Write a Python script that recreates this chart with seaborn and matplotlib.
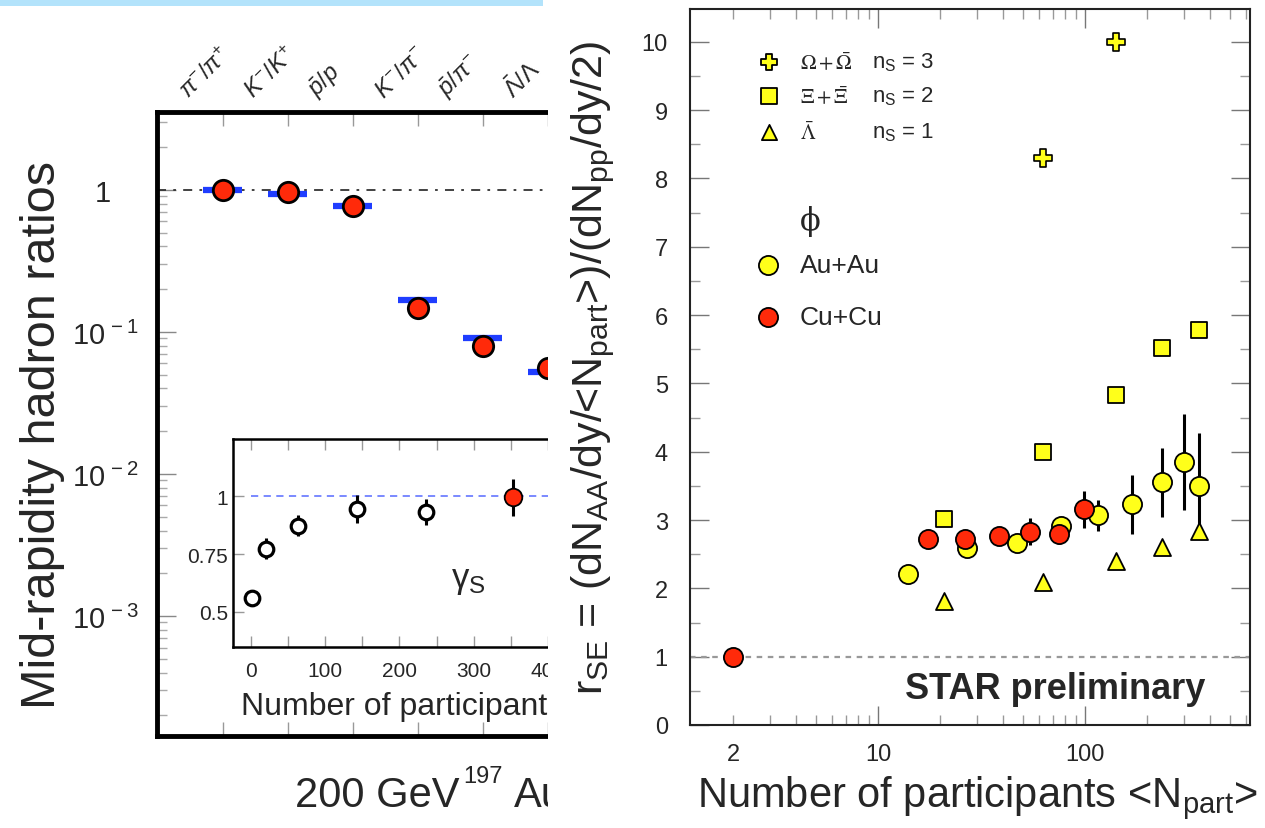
import numpy as np
import pandas as pd
import matplotlib
matplotlib.use("Agg")
import matplotlib.pyplot as plt
import matplotlib.transforms as mtransforms
from matplotlib.patches import Rectangle
from matplotlib.ticker import LogLocator, MultipleLocator, FixedLocator, FuncFormatter, NullFormatter
import seaborn as sns

# ---------------- data ----------------
ratio_labels = [r'$\pi^{-}/\pi^{+}$', r'$K^{-}/K^{+}$', r'$\bar{p}/p$', r'$K^{-}/\pi^{-}$',
                r'$\bar{p}/\pi^{-}$', r'$\bar{\Lambda}/\Lambda$']
ratio_data = [1.0, 0.968, 0.772, 0.148, 0.080, 0.0557]
ratio_model = [1.0, 0.937, 0.772, 0.168, 0.091, 0.052]

inset_npart = [2, 21, 63, 143, 236, 353]
inset_gamma = [0.56, 0.772, 0.872, 0.944, 0.932, 0.994]
inset_err = [0.02, 0.045, 0.045, 0.06, 0.055, 0.08]
inset_kind = ['open', 'open', 'open', 'open', 'open', 'red']

npart_au = [14.0, 26.9, 47.2, 76.7, 115, 168, 236, 302, 355]
rse_au = [2.21, 2.59, 2.66, 2.92, 3.07, 3.23, 3.55, 3.85, 3.50]
err_au = [0, 0, 0, 0.1, 0.23, 0.43, 0.5, 0.7, 0.78]
npart_cu = [2, 17.5, 26.2, 38.4, 54.3, 74.6, 98.4]
rse_cu = [1.0, 2.72, 2.72, 2.77, 2.83, 2.80, 3.16]
err_cu = [0, 0, 0, 0, 0.2, 0.15, 0.27]
npart_xi = [20.8, 62.5, 141, 236, 355]
rse_xi = [3.02, 3.99, 4.83, 5.52, 5.78]
npart_lam = [20.8, 62.5, 141, 236, 355]
rse_lam = [1.82, 2.10, 2.40, 2.60, 2.84]
npart_om = [62.5, 141]
rse_om = [8.30, 10.0]

right_yticks = list(range(0, 11))
right_xtick_vals = [2, 10, 100]

# ---------------- style ----------------
sns.set_theme(style="ticks")
plt.rcParams['font.family'] = ['Liberation Sans', 'DejaVu Sans']
plt.rcParams['mathtext.fontset'] = 'custom'
plt.rcParams['mathtext.rm'] = 'Liberation Sans'
plt.rcParams['mathtext.it'] = 'Liberation Sans:italic'
plt.rcParams['mathtext.bf'] = 'Liberation Sans:bold'

W, H = 1265, 829


def rect(l, t, r, b):
    return [l / W, 1 - b / H, (r - l) / W, (b - t) / H]


fig = plt.figure(figsize=(W / 100, H / 100), dpi=100)
fig.patch.set_facecolor('white')

RED = '#ff2a0a'
YEL = '#ffff1a'

# ---------------- left main panel ----------------
axL = fig.add_axes(rect(157, 113, 548, 737))
axL.set_facecolor('white')
df_ratio = pd.DataFrame({'idx': np.arange(len(ratio_labels)), 'data': ratio_data, 'model': ratio_model})
axL.set_yscale('log')
axL.set_ylim(10 ** -3.845, 10 ** 0.549)
axL.set_xlim(-1.011, 4.98)
axL.axhline(1, color='#333333', lw=1.3, ls=(0, (5, 4, 1.5, 4)), zorder=1)
axL.hlines(df_ratio['model'], df_ratio['idx'] - 0.3, df_ratio['idx'] + 0.3, color='#1f3dff', lw=4.5, zorder=2)
sns.scatterplot(data=df_ratio, x='idx', y='data', ax=axL, s=215, color=RED, edgecolor='black',
                linewidth=2.0, zorder=3, legend=False)
axL.set_xlabel('')
axL.set_ylabel('Mid-rapidity hadron ratios', fontsize=35)
axL.yaxis.set_label_coords(-0.236, 0.484)
for s in ['left', 'top', 'bottom']:
    axL.spines[s].set_linewidth(3.5)
    axL.spines[s].set_color('black')
axL.spines['right'].set_visible(False)
axL.set_yticks([1e-3, 1e-2, 1e-1, 1])
axL.set_yticklabels([r'$10^{\,-3}$', r'$10^{\,-2}$', r'$10^{\,-1}$', '1'])
axL.yaxis.set_minor_locator(LogLocator(base=10, subs=np.arange(2, 10)))
axL.yaxis.set_minor_formatter(NullFormatter())
axL.tick_params(axis='y', which='major', direction='in', length=14, width=1, color='#888888',
                labelsize=21, pad=13)
axL.tick_params(axis='y', which='minor', direction='in', length=7, width=1, color='#aaaaaa')
off_one = mtransforms.ScaledTranslation(-0.28, 0, fig.dpi_scale_trans)
for t in axL.yaxis.get_major_ticks():
    if t.label1.get_text() == '1':
        t.label1.set_transform(t.label1.get_transform() + off_one)
axL.set_xticks(df_ratio['idx'])
axL.set_xticklabels(ratio_labels)
axL.tick_params(axis='x', which='major', direction='in', length=10, width=1, color='#999999',
                top=True, bottom=True, labeltop=True, labelbottom=False, labelsize=17, pad=7)
off = mtransforms.ScaledTranslation(-0.31, 0, fig.dpi_scale_trans)
for t in axL.xaxis.get_major_ticks():
    lab = t.label2
    lab.set_rotation(45)
    lab.set_rotation_mode('anchor')
    lab.set_ha('left')
    lab.set_va('bottom')
    lab.set_transform(lab.get_transform() + off)

fig.text(295 / W, 1 - 796 / H, '200 GeV', fontsize=30, ha='left', va='center')
fig.text(463 / W, 1 - 777 / H, '197', fontsize=17, ha='left', va='center')
fig.text(514 / W, 1 - 796 / H, 'Au+Au', fontsize=30, ha='left', va='center')

# ---------------- inset ----------------
axI = fig.add_axes(rect(233, 440, 548, 648))
axI.set_facecolor('white')
axI.set_xlim(-23.8, 393)
axI.set_ylim(0.349, 1.246)
axI.hlines(1, 0, 500, color='#7080ff', ls=(0, (4, 3)), lw=1.3, zorder=1)
df_in = pd.DataFrame({'npart': inset_npart, 'g': inset_gamma, 'err': inset_err, 'kind': inset_kind})
axI.errorbar(df_in['npart'], df_in['g'], yerr=df_in['err'], fmt='none', ecolor='black', elinewidth=2.2, zorder=2)
open_df = df_in[df_in['kind'] == 'open']
red_df = df_in[df_in['kind'] == 'red']
sns.scatterplot(data=open_df, x='npart', y='g', ax=axI, s=110, color='white', edgecolor='black',
                linewidth=2.3, zorder=3, legend=False)
sns.scatterplot(data=red_df, x='npart', y='g', ax=axI, s=160, color=RED, edgecolor='black',
                linewidth=1.3, zorder=3, legend=False)
for s in ['left', 'top', 'bottom']:
    axI.spines[s].set_linewidth(1.8)
    axI.spines[s].set_color('black')
axI.spines['right'].set_visible(False)
axI.set_xticks([0, 100, 200, 300, 400])
axI.xaxis.set_minor_locator(MultipleLocator(50))
axI.set_yticks([0.5, 0.75, 1.0])
axI.set_yticklabels(['0.5', '0.75', '1'])
axI.tick_params(axis='both', which='both', direction='in', top=True, length=8, width=1,
                color='#999999', labelsize=15)
axI.tick_params(axis='x', pad=10)
axI.set_xlabel('Number of participants', fontsize=23)
axI.xaxis.set_label_coords(0.025, -0.21)
axI.xaxis.label.set_ha('left')
axI.set_ylabel('')
axI.text(293, 0.642, r'$\mathrm{\gamma}_{\mathrm{S}}$', fontsize=25, ha='center', va='center')

# ---------------- cover + top strip ----------------
fig.add_artist(Rectangle((548 / W, 0), 1 - 548 / W, 1, transform=fig.transFigure,
                         facecolor='white', edgecolor='none', zorder=5))
fig.add_artist(Rectangle((0, 1 - 7 / H), 543 / W, 7 / H, transform=fig.transFigure,
                         facecolor='#b3e3fb', edgecolor='none', zorder=6))

# ---------------- right panel ----------------
axR = fig.add_axes(rect(690, 10, 1250, 726))
axR.set_zorder(10)
axR.set_facecolor('white')
axR.set_xscale('log')
axR.set_xlim(1.235, 627)
axR.set_ylim(0, 10.48)
axR.axhline(1, color='#999999', lw=1.6, ls=(0, (2.5, 2.5)), zorder=1)

df_au = pd.DataFrame({'n': npart_au, 'r': rse_au, 'e': err_au})
df_cu = pd.DataFrame({'n': npart_cu, 'r': rse_cu, 'e': err_cu})
df_xi = pd.DataFrame({'n': npart_xi, 'r': rse_xi})
df_lam = pd.DataFrame({'n': npart_lam, 'r': rse_lam})
df_om = pd.DataFrame({'n': npart_om, 'r': rse_om})

axR.errorbar(df_au['n'], df_au['r'], yerr=df_au['e'], fmt='none', ecolor='black', elinewidth=2.2, zorder=2)
axR.errorbar(df_cu['n'], df_cu['r'], yerr=df_cu['e'], fmt='none', ecolor='black', elinewidth=2.2, zorder=2)
sns.scatterplot(data=df_lam, x='n', y='r', ax=axR, marker='^', s=150, color=YEL, edgecolor='black',
                linewidth=1.3, zorder=3, legend=False)
sns.scatterplot(data=df_xi, x='n', y='r', ax=axR, marker='s', s=130, color=YEL, edgecolor='black',
                linewidth=1.3, zorder=3, legend=False)
sns.scatterplot(data=df_om, x='n', y='r', ax=axR, marker='P', s=150, color=YEL, edgecolor='black',
                linewidth=1.2, zorder=3, legend=False)
sns.scatterplot(data=df_au, x='n', y='r', ax=axR, marker='o', s=190, color=YEL, edgecolor='black',
                linewidth=1.3, zorder=4, legend=False)
sns.scatterplot(data=df_cu, x='n', y='r', ax=axR, marker='o', s=190, color=RED, edgecolor='black',
                linewidth=1.3, zorder=5, legend=False)

for s in ['left', 'top', 'bottom', 'right']:
    axR.spines[s].set_linewidth(1.5)
    axR.spines[s].set_color('#222222')
axR.set_yticks(right_yticks)
axR.yaxis.set_minor_locator(MultipleLocator(0.5))
axR.xaxis.set_major_locator(FixedLocator([10, 100]))
axR.xaxis.set_major_formatter(FuncFormatter(lambda v, p: f'{v:g}'))
axR.xaxis.set_minor_locator(LogLocator(base=10, subs=np.arange(2, 10)))
axR.xaxis.set_minor_formatter(FuncFormatter(lambda v, p: '2' if abs(v - right_xtick_vals[0]) < 1e-6 else ''))
axR.tick_params(axis='both', which='major', direction='in', top=True, right=True, length=14, width=1,
                color='#777777', labelsize=17)
axR.tick_params(axis='both', which='minor', direction='in', top=True, right=True, length=7, width=1,
                color='#999999', labelsize=17)
axR.tick_params(axis='x', which='both', pad=13)
axR.tick_params(axis='y', which='both', pad=16)

axR.set_ylabel(r'r$_{\mathrm{SE}}$ = (dN$_{\mathrm{AA}}$/dy/<N$_{\mathrm{part}}$>)/(dN$_{\mathrm{pp}}$/dy/2)',
               fontsize=31)
axR.yaxis.set_label_coords(-0.13, 0.5)
axR.set_xlabel(r'Number of participants <N$_{\mathrm{part}}$>', fontsize=30)
axR.xaxis.set_label_coords(0.514, -0.068)


def axc(px, py):
    return ((px - 690) / 560, (726 - py) / 716)


leg_items = [('P', r'$\Omega+\bar{\Omega}$', r'n$_{\mathrm{S}}$ = 3', 63),
             ('s', r'$\Xi+\bar{\Xi}$', r'n$_{\mathrm{S}}$ = 2', 97),
             ('^', r'$\bar{\Lambda}$', r'n$_{\mathrm{S}}$ = 1', 133)]
for mk, lab, ns, py in leg_items:
    x0, y0 = axc(769, py)
    axR.scatter([x0], [y0], marker=mk, s=120, color=YEL, edgecolor='black', linewidth=1.3,
                transform=axR.transAxes, clip_on=False, zorder=6)
    xt, _ = axc(800, py)
    axR.text(xt, y0, lab, transform=axR.transAxes, fontsize=15, va='center', ha='left',
             math_fontfamily='stix')
    xn, _ = axc(872, py)
    axR.text(xn, y0, ns, transform=axR.transAxes, fontsize=16, va='center', ha='left')

xp, yp = axc(810, 222)
axR.text(xp, yp, 'ϕ', transform=axR.transAxes, fontsize=22, ha='center', va='center',
         family=['DejaVu Serif', 'DejaVu Sans'])
for col, lab, py in [(YEL, 'Au+Au', 266), (RED, 'Cu+Cu', 318)]:
    x0, y0 = axc(768, py)
    axR.scatter([x0], [y0], marker='o', s=190, color=col, edgecolor='black', linewidth=1.3,
                transform=axR.transAxes, clip_on=False, zorder=6)
    xt, _ = axc(800, py)
    axR.text(xt, y0, lab, transform=axR.transAxes, fontsize=19, va='center', ha='left')

xs, ys = axc(1055, 690)
axR.text(xs, ys, 'STAR preliminary', transform=axR.transAxes, fontsize=26, fontweight='bold',
         ha='center', va='center')

fig.savefig('out.png', dpi=100)
